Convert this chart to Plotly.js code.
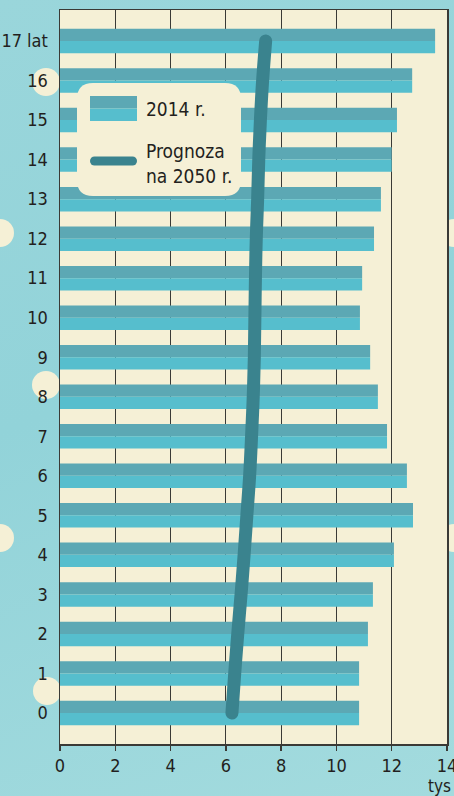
<!DOCTYPE html>
<html>
<head>
<meta charset="utf-8">
<script src="https://cdn.plot.ly/plotly-3.0.1.min.js"></script>
<style>
  html, body { margin: 0; padding: 0; }
  body {
    width: 454px; height: 796px; overflow: hidden;
    background: linear-gradient(160deg, #9ad6db 0%, #92d3d9 45%, #a3dbde 100%);
  }
  #chart { width: 454px; height: 796px; }
  .scatterlayer .js-line { stroke-linecap: round !important; stroke-linejoin: round !important; }
  .shapelayer path { stroke-linecap: round !important; }
</style>
</head>
<body>
<div id="chart"></div>
<script>
// ---- data ----
const ages = [0, 1, 2, 3, 4, 5, 6, 7, 8, 9, 10, 11, 12, 13, 14, 15, 16, 17];
const ageLabels = ['0', '1', '2', '3', '4', '5', '6', '7', '8', '9', '10', '11', '12', '13', '14', '15', '16', '17 lat'];
const values2014 = [10.82, 10.82, 11.14, 11.32, 12.08, 12.77, 12.55, 11.83, 11.50, 11.22, 10.85, 10.93, 11.36, 11.61, 12.00, 12.19, 12.74, 13.57];
const forecast2050 = [6.22, 6.32, 6.43, 6.55, 6.66, 6.76, 6.86, 6.93, 6.99, 7.03, 7.05, 7.07, 7.10, 7.15, 7.19, 7.25, 7.33, 7.44];
const xTicks = [0, 2, 4, 6, 8, 10, 12, 14];
const seriesNames = ['2014 r.', 'Prognoza<br>na 2050 r.'];
const unitLabel = 'tys';

// ---- style ----
const W = 454, H = 796;
const M = { l: 60, r: 7, t: 10, b: 52 };
const PW = W - M.l - M.r, PH = H - M.t - M.b;
const px = v => (v - M.l) / PW;          // pixel x -> paper x
const py = v => (H - M.b - v) / PH;      // pixel y -> paper y
const CREAM = '#f5f0d6';
const DARK = '#5ca8b4';
const LIGHT = '#56becd';
const LINEC = '#3a838e';
const FONT = 'Liberation Sans Narrow, Arial Narrow, DejaVu Sans Condensed, sans-serif';
const TXT = '#231f20';
const AXC = '#3a3a36';

const traces = [
  { type: 'bar', orientation: 'h', x: values2014, y: ages, width: 0.31, offset: 0,
    marker: { color: DARK }, name: seriesNames[0], hoverinfo: 'x+y' },
  { type: 'bar', orientation: 'h', x: values2014, y: ages, width: 0.31, offset: -0.31,
    marker: { color: LIGHT }, name: seriesNames[0], hoverinfo: 'skip' },
  { type: 'scatter', mode: 'lines', x: forecast2050, y: ages,
    line: { color: LINEC, width: 13, shape: 'spline', smoothing: 1 }, name: 'Prognoza na 2050 r.' }
];

function circle(cx, cy, r) {
  return { type: 'circle', xref: 'paper', yref: 'paper', layer: 'below',
    x0: px(cx - r), x1: px(cx + r), y0: py(cy + r), y1: py(cy - r),
    fillcolor: CREAM, line: { width: 0 } };
}
function roundRect(x0, y0, x1, y1, r) {
  const rx = r / PW, ry = r / PH;
  const a = px(x0), b = px(x1), top = py(y0), bot = py(y1);
  return `M ${a + rx},${top} L ${b - rx},${top} Q ${b},${top} ${b},${top - ry} ` +
         `L ${b},${bot + ry} Q ${b},${bot} ${b - rx},${bot} L ${a + rx},${bot} ` +
         `Q ${a},${bot} ${a},${bot + ry} L ${a},${top - ry} Q ${a},${top} ${a + rx},${top} Z`;
}

const shapes = [
  circle(0, 233, 14), circle(0, 538, 14), circle(454, 233, 14), circle(454, 538, 14),
  circle(46, 82, 14), circle(46, 385, 14), circle(47, 691, 14),
  { type: 'path', xref: 'paper', yref: 'paper', layer: 'above', path: roundRect(77, 83, 241, 196, 16),
    fillcolor: CREAM, line: { width: 0 } },
  { type: 'rect', xref: 'paper', yref: 'paper', layer: 'above',
    x0: px(90), x1: px(137), y0: py(108.5), y1: py(96), fillcolor: DARK, line: { width: 0 } },
  { type: 'rect', xref: 'paper', yref: 'paper', layer: 'above',
    x0: px(90), x1: px(137), y0: py(121), y1: py(108.5), fillcolor: LIGHT, line: { width: 0 } },
  { type: 'line', xref: 'paper', yref: 'paper', layer: 'above',
    x0: px(94.5), x1: px(132.5), y0: py(161), y1: py(161), line: { color: LINEC, width: 9 } }
];

const annotations = [
  { xref: 'paper', yref: 'paper', x: px(144), y: py(109), xanchor: 'left', yanchor: 'middle',
    text: seriesNames[0], showarrow: false, font: { family: FONT, size: 19, color: TXT } },
  { xref: 'paper', yref: 'paper', x: px(144), y: py(163), xanchor: 'left', yanchor: 'middle', align: 'left',
    text: seriesNames[1], showarrow: false, font: { family: FONT, size: 19, color: TXT } },
  { xref: 'paper', yref: 'paper', x: px(439), y: py(786), xanchor: 'center', yanchor: 'middle',
    text: unitLabel, showarrow: false, font: { family: FONT, size: 17, color: TXT } }
];

const layout = {
  width: W, height: H,
  margin: M,
  paper_bgcolor: 'rgba(0,0,0,0)',
  plot_bgcolor: CREAM,
  showlegend: false,
  barmode: 'overlay',
  font: { family: FONT, color: TXT },
  xaxis: {
    range: [0, 14], tickvals: xTicks, ticktext: xTicks.map(String),
    showgrid: true, gridcolor: AXC, gridwidth: 1,
    zeroline: false, showline: true, linecolor: AXC, linewidth: 1.5, mirror: true,
    ticks: 'outside', ticklen: 5, tickcolor: AXC, tickwidth: 1.5,
    ticklabeloverflow: 'allow',
    tickfont: { family: FONT, size: 18, color: TXT }, fixedrange: true
  },
  yaxis: {
    range: [-0.785, 17.785], tickvals: ages, ticktext: ageLabels,
    showgrid: false, zeroline: false, showline: true, linecolor: AXC, linewidth: 1.5, mirror: true,
    ticks: '', ticklabelstandoff: 7,
    tickfont: { family: FONT, size: 18, color: TXT }, fixedrange: true
  },
  shapes: shapes,
  annotations: annotations
};

Plotly.newPlot('chart', traces, layout, { staticPlot: true, displayModeBar: false });
</script>
</body>
</html>
